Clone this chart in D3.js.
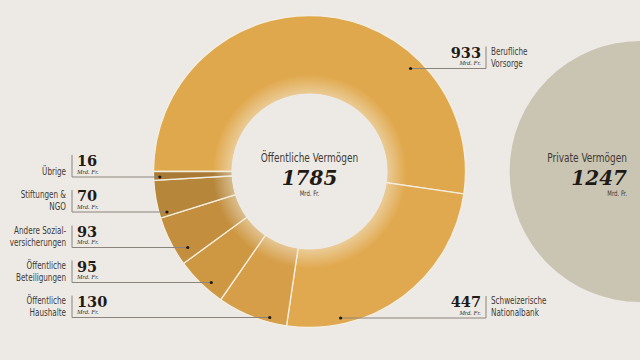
<!DOCTYPE html>
<html><head><meta charset="utf-8">
<script src="https://cdn.jsdelivr.net/npm/d3@7"></script>
<style>
html,body{margin:0;padding:0;background:#EDEAE5;}
svg{display:block;}
.cat{font-family:"DejaVu Sans Condensed","DejaVu Sans",sans-serif;font-stretch:condensed;fill:#3f3a35;}
.num{font-family:"DejaVu Serif",serif;font-weight:bold;fill:#1f1a16;}
.unit{font-family:"Liberation Serif",serif;font-style:italic;fill:#3a3530;}
</style></head>
<body>
<script>
const categories = ["Berufliche Vorsorge","Schweizerische Nationalbank","Öffentliche Haushalte","Öffentliche Beteiligungen","Andere Sozialversicherungen","Stiftungen & NGO","Übrige"];
const labelLines = [["Berufliche","Vorsorge"],["Schweizerische","Nationalbank"],["Öffentliche","Haushalte"],["Öffentliche","Beteiligungen"],["Andere Sozial-","versicherungen"],["Stiftungen &","NGO"],["Übrige"]];
const values = [933,447,130,95,93,70,16];
const colors = ["#E0A84C","#E1A94F","#D69E48","#CE9842","#C38E3E","#B6873A","#A87A35"];
const publicTotal = 1785;
const privateTotal = 1247;
const unit = "Mrd. Fr.";

const W=640,H=360;
const svg=d3.select("body").append("svg").attr("width",W).attr("height",H);
svg.append("rect").attr("width",W).attr("height",H).attr("fill","#EDEAE5");

const cx=309.5, cy=171.5, R=156;
const rScale=d3.scaleSqrt().domain([0,publicTotal]).range([0,R]);

svg.append("circle").attr("cx",640).attr("cy",cy).attr("r",rScale(privateTotal)).attr("fill","#CAC4B3");

const pie=d3.pie().sort(null).value(d=>d).startAngle(-Math.PI/2).endAngle(1.5*Math.PI);
const arcs=pie(values);
const arc=d3.arc().innerRadius(0).outerRadius(R);
const g=svg.append("g").attr("transform",`translate(${cx},${cy})`);
g.selectAll("path").data(arcs).join("path")
 .attr("d",arc).attr("fill",(d,i)=>colors[i])
 .attr("stroke","#F3EEE2").attr("stroke-width",1.3);

const defs=svg.append("defs");
const rg=defs.append("radialGradient").attr("id","halo").attr("cx","50%").attr("cy","50%").attr("r","50%");
rg.append("stop").attr("offset","0%").attr("stop-color","#EDEAE5").attr("stop-opacity",1);
rg.append("stop").attr("offset","80%").attr("stop-color","#EDEAE5").attr("stop-opacity",1);
rg.append("stop").attr("offset","80.8%").attr("stop-color","#F3ECDB").attr("stop-opacity",0.5);
rg.append("stop").attr("offset","100%").attr("stop-color","#F3ECDB").attr("stop-opacity",0);
g.append("circle").attr("r",97).attr("fill","url(#halo)");

function ctext(parent,x,y,size,anchor,str,sx,fill){
  const t=parent.append("text").attr("class","cat")
    .attr("transform",`translate(${x},${y}) scale(${sx},1)`)
    .attr("text-anchor",anchor).attr("font-size",size).text(str);
  if(fill) t.attr("fill",fill);
  return t;
}

ctext(svg,cx,161.5,12.5,"middle","Öffentliche Vermögen",0.8,"#2a2520");
svg.append("text").attr("class","num").attr("text-anchor","middle").attr("x",cx).attr("y",185).attr("font-size",20).attr("font-style","italic").text(publicTotal);
ctext(svg,cx,195.5,7.5,"middle",unit,0.8,"#6a635b");

const px=627;
ctext(svg,px,162,12.5,"end","Private Vermögen",0.8,"#2a2520");
svg.append("text").attr("class","num").attr("text-anchor","end").attr("x",px).attr("y",185).attr("font-size",20).attr("font-style","italic").text(privateTotal);
ctext(svg,px,195.5,7.5,"end",unit,0.8,"#6a635b");

const side=["right","right","left","left","left","left","left"];
const lineY=[68.5,318,317.5,282.5,247.5,212,177];
const dotR=[0.925,0.96,0.97,0.95,0.92,0.95,0.96];

const lab=svg.append("g");
arcs.forEach((a,i)=>{
  const mid=(a.startAngle+a.endAngle)/2;
  const y=lineY[i];
  const dy=y-cy;
  const rr=R*dotR[i];
  const dx=Math.sqrt(Math.max(rr*rr-dy*dy,0));
  const xDot = cx + (Math.sin(mid)>=0?dx:-dx);
  const lg=lab.append("g");
  const L=labelLines[i];
  const left=side[i]==="left";
  const xd=left?72:486;
  lg.append("line").attr("x1",xd).attr("x2",xDot).attr("y1",y).attr("y2",y).attr("stroke","#8a847c").attr("stroke-width",1);
  lg.append("line").attr("x1",xd).attr("x2",xd).attr("y1",y-22).attr("y2",y).attr("stroke","#8a847c").attr("stroke-width",1);
  const nx=left?77:481, na=left?"start":"end";
  lg.append("text").attr("class","num").attr("text-anchor",na).attr("x",nx).attr("y",y-11).attr("font-size",14.5).text(values[i]);
  lg.append("text").attr("class","unit").attr("text-anchor",na).attr("x",nx).attr("y",y-3.5).attr("font-size",6.5).text(unit);
  L.forEach((t,j)=>{
    ctext(lg,left?66:491,y-2-(L.length-1-j)*12,11,left?"end":"start",t,0.73);
  });
  lg.append("circle").attr("cx",xDot).attr("cy",y).attr("r",1.6).attr("fill","#1f1a16");
});
</script>
</body></html>
